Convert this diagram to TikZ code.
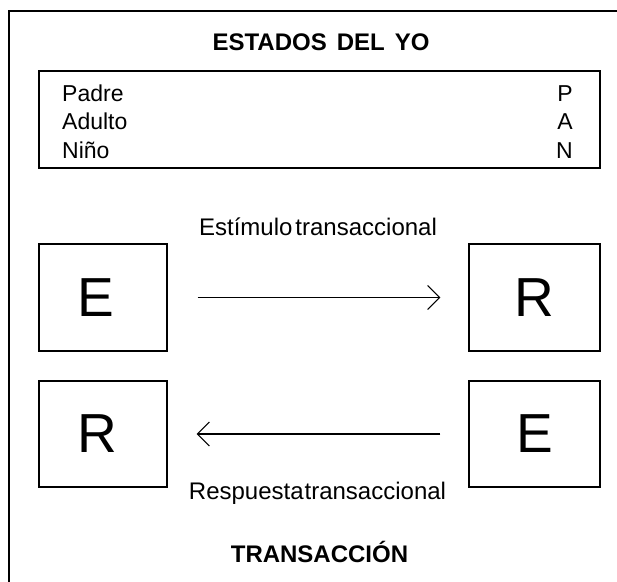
\documentclass[tikz,border=0pt]{standalone}
\usepackage{fontspec}
\setmainfont{Liberation Sans}
\usetikzlibrary{arrows.meta}
\newcommand{\setsp}[1]{\spaceskip=#1 plus 0pt minus 0pt\relax}
\begin{document}
\begin{tikzpicture}[x=1pt,y=-1pt,
  box/.style={draw,line width=1.3pt,rectangle,inner sep=0pt,minimum width=#1,minimum height=107pt},
  big/.style={font=\fontsize{55}{60}\selectfont},
  txt/.style={font=\fontsize{23}{28}\selectfont,inner sep=0pt},
  lbl/.style={font=\fontsize{24}{28}\selectfont,inner sep=0pt},
  ttl/.style={font=\bfseries\fontsize{24}{28}\selectfont,inner sep=0pt},
  arr/.style={line width=1.2pt,-{Straight Barb[length=12pt,width=24pt,line width=1.1pt]}}
]
\useasboundingbox (0,0) rectangle (617,581);
% outer frame (top and left edges visible)
\coordinate (fb) at (9,584);
\coordinate (ftl) at (9,11);
\coordinate (ftr) at (620,11);
\draw[line width=2pt] (fb) -- (ftl) -- (ftr);
% title
\node[ttl,anchor=base] (title) at (321,50) {ESTADOS\hspace{10pt}DEL\hspace{10pt}YO};
% inner box
\node[draw,line width=1.3pt,rectangle,inner sep=0pt,minimum width=561pt,minimum height=97pt] (states) at (319.5,119.5) {};
\node[txt,anchor=base west] (padre) at (62,101) {Padre};
\node[txt,anchor=base west] (adulto) at (62,129.5) {Adulto};
\node[txt,anchor=base west] (nino) at (62,158) {Niño};
\node[txt,anchor=base east] (p) at (573,101) {P};
\node[txt,anchor=base east] (a) at (573,129.5) {A};
\node[txt,anchor=base east] (n) at (573,158) {N};
% boxes
\node[box=128pt] (E1) at (103,297.5) {};
\node[big] (E1t) at ([xshift=-7pt]E1.center) {E};
\node[box=131pt,big] (R1) at (534.5,297.5) {R};
\node[box=128pt,minimum height=106pt] (R2) at (103,434) {};
\node[big] (R2t) at ([xshift=-6pt]R2.center) {R};
\node[box=131pt,big,minimum height=106pt] (E2) at (534.5,434) {E};
% arrows
\draw[arr,shorten <=30pt,shorten >=28pt] (E1.east) -- (R1.west);
\draw[arr,shorten <=28pt,shorten >=29pt] (E2.west) -- (R2.east);
% labels
\node[lbl,anchor=base] (estimulo) at (318,235) {\setsp{3pt}Estímulo transaccional};
\node[lbl,anchor=base] (respuesta) at (317.5,499) {\setsp{1pt}Respuesta transaccional};
\node[ttl,anchor=base] (trans) at (319.5,562) {TRANSACCIÓN};
\end{tikzpicture}
\end{document}
